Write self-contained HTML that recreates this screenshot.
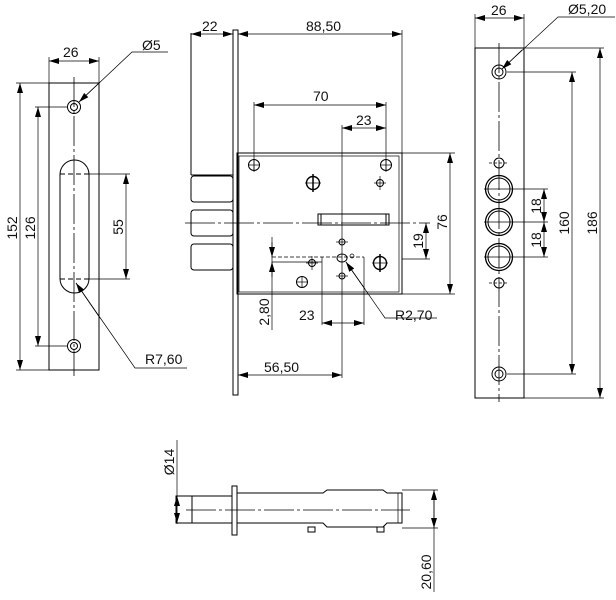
<!DOCTYPE html>
<html><head><meta charset="utf-8"><style>html,body{margin:0;padding:0;background:#fff}svg{display:block}text{font-family:"Liberation Sans",sans-serif;font-size:14px;fill:#111}</style></head><body>
<svg width="616" height="600" viewBox="0 0 616 600" xmlns="http://www.w3.org/2000/svg">
<defs>
<marker id="a" viewBox="0 0 10 6" refX="10" refY="3" markerWidth="10" markerHeight="6" orient="auto-start-reverse" markerUnits="userSpaceOnUse"><path d="M0,0L10,3L0,6z" fill="#000"/></marker>
</defs>
<g fill="none" stroke="#000" stroke-width="1">
<rect x="49" y="83" width="50" height="287"/>
<line x1="74" y1="77" x2="74" y2="376" stroke-width="0.8" stroke-dasharray="30,3,3,3"/>
<circle cx="74" cy="107" r="6.5"/><circle cx="74" cy="107" r="3.5"/>
<circle cx="74" cy="346" r="6.5"/><circle cx="74" cy="346" r="3.5"/>
<rect x="60" y="160" width="29" height="133" rx="14.5"/>
<line x1="60" y1="174" x2="89" y2="174" stroke-dasharray="5,3"/>
<line x1="60" y1="279" x2="89" y2="279" stroke-dasharray="5,3"/>
<line x1="49" y1="57" x2="49" y2="83" stroke-width="0.7"/><line x1="99" y1="57" x2="99" y2="83" stroke-width="0.7"/>
<line x1="49" y1="61" x2="99" y2="61" marker-start="url(#a)" marker-end="url(#a)" stroke-width="0.7"/>
<line x1="16" y1="83" x2="49" y2="83" stroke-width="0.7"/><line x1="16" y1="370" x2="49" y2="370" stroke-width="0.7"/>
<line x1="20" y1="83" x2="20" y2="370" marker-start="url(#a)" marker-end="url(#a)" stroke-width="0.7"/>
<line x1="35" y1="107" x2="68" y2="107" stroke-width="0.7"/><line x1="35" y1="346" x2="68" y2="346" stroke-width="0.7"/>
<line x1="38" y1="107" x2="38" y2="346" marker-start="url(#a)" marker-end="url(#a)" stroke-width="0.7"/>
<line x1="89" y1="174" x2="130" y2="174" stroke-width="0.7"/><line x1="89" y1="279" x2="130" y2="279" stroke-width="0.7"/>
<line x1="126" y1="174" x2="126" y2="279" marker-start="url(#a)" marker-end="url(#a)" stroke-width="0.7"/>
<polyline points="168,52 132,52 79,102" stroke-width="0.7"/><line x1="100" y1="82" x2="79" y2="102" marker-end="url(#a)" stroke-width="0.7"/>
<polyline points="187,368 135,368 76,283" stroke-width="0.7"/><line x1="100" y1="318" x2="76" y2="283" marker-end="url(#a)" stroke-width="0.7"/>

<rect x="233" y="30" width="5" height="365"/>
<line x1="191" y1="33" x2="191" y2="175"/>
<line x1="191" y1="175" x2="233" y2="175"/>
<rect x="191" y="176" width="42" height="26" rx="3"/>
<rect x="191" y="210" width="42" height="26" rx="3"/>
<rect x="191" y="244" width="42" height="26" rx="3"/>
<rect x="237" y="153" width="165" height="141"/>
<rect x="239" y="156" width="160" height="136" stroke-width="0.7"/>
<line x1="191" y1="34" x2="233" y2="34" marker-start="url(#a)" marker-end="url(#a)" stroke-width="0.7"/>
<line x1="238" y1="34" x2="402" y2="34" marker-start="url(#a)" marker-end="url(#a)" stroke-width="0.7"/>
<line x1="402" y1="30" x2="402" y2="153" stroke-width="0.7"/>
<line x1="254" y1="102" x2="254" y2="172" stroke-width="0.7"/><line x1="386" y1="102" x2="386" y2="172" stroke-width="0.7"/>
<line x1="254" y1="105" x2="386" y2="105" marker-start="url(#a)" marker-end="url(#a)" stroke-width="0.7"/>
<line x1="342" y1="125" x2="342" y2="378" stroke-width="0.7"/>
<line x1="342" y1="128" x2="386" y2="128" marker-start="url(#a)" marker-end="url(#a)" stroke-width="0.7"/>
<line x1="402" y1="153" x2="455" y2="153" stroke-width="0.7"/><line x1="402" y1="294" x2="455" y2="294" stroke-width="0.7"/>
<line x1="450" y1="153" x2="450" y2="294" marker-start="url(#a)" marker-end="url(#a)" stroke-width="0.7"/>
<circle cx="254" cy="165" r="5.5"/><line x1="248" y1="165" x2="260" y2="165" stroke-width="0.7"/><line x1="254" y1="159" x2="254" y2="171" stroke-width="0.7"/>
<circle cx="386" cy="165" r="5.5"/><line x1="380" y1="165" x2="392" y2="165" stroke-width="0.7"/><line x1="386" y1="159" x2="386" y2="171" stroke-width="0.7"/>
<circle cx="313" cy="183" r="6.5" stroke-width="1.4"/><line x1="305" y1="183" x2="321" y2="183" stroke-width="0.7"/><line x1="313" y1="174" x2="313" y2="192" stroke-width="1.5"/>
<circle cx="380" cy="183" r="3.5"/><line x1="374" y1="183" x2="386" y2="183" stroke-width="0.7"/><line x1="380" y1="176" x2="380" y2="190" stroke-width="0.7"/>
<rect x="318" y="214" width="71" height="11"/><line x1="321" y1="214" x2="321" y2="225"/><line x1="386" y1="214" x2="386" y2="225"/>
<line x1="185" y1="223" x2="430" y2="223" stroke-width="0.8" stroke-dasharray="30,3,3,3"/>
<line x1="402" y1="259" x2="430" y2="259" stroke-width="0.7"/>
<line x1="426" y1="223" x2="426" y2="259" marker-start="url(#a)" marker-end="url(#a)" stroke-width="0.7"/>
<circle cx="342" cy="242" r="3"/><line x1="336" y1="242" x2="348" y2="242" stroke-width="0.7"/>
<line x1="272" y1="257" x2="364" y2="257" stroke-width="0.7" stroke-dasharray="4,2"/>
<line x1="272" y1="262" x2="322" y2="262" stroke-width="0.7"/>
<line x1="322" y1="257" x2="322" y2="325" stroke-width="0.7"/><line x1="364" y1="257" x2="364" y2="325" stroke-width="0.7"/>
<ellipse cx="342" cy="258" rx="5" ry="4"/><circle cx="352" cy="256" r="2" stroke-width="0.7"/>
<circle cx="312" cy="263" r="3.5"/><line x1="306" y1="263" x2="318" y2="263" stroke-width="0.7"/><line x1="312" y1="256" x2="312" y2="270" stroke-width="0.7"/>
<circle cx="380" cy="263" r="6.5" stroke-width="1.4"/><line x1="372" y1="263" x2="388" y2="263" stroke-width="0.7"/><line x1="380" y1="254" x2="380" y2="272" stroke-width="1.5"/>
<circle cx="302" cy="282" r="5.5"/><line x1="296" y1="282" x2="308" y2="282" stroke-width="0.7"/><line x1="302" y1="276" x2="302" y2="288" stroke-width="0.7"/>
<circle cx="342" cy="276" r="3"/><line x1="336" y1="276" x2="348" y2="276" stroke-width="0.7"/>
<line x1="272" y1="237" x2="272" y2="330" stroke-width="0.7"/>
<line x1="272" y1="242" x2="272" y2="257" marker-end="url(#a)" stroke-width="0.7"/>
<line x1="272" y1="277" x2="272" y2="262" marker-end="url(#a)" stroke-width="0.7"/>
<line x1="322" y1="323" x2="364" y2="323" marker-start="url(#a)" marker-end="url(#a)" stroke-width="0.7"/>
<polyline points="437,318 385,318 346,262" stroke-width="0.7"/><line x1="365" y1="289" x2="346" y2="262" marker-end="url(#a)" stroke-width="0.7"/>
<line x1="238" y1="375" x2="342" y2="375" marker-start="url(#a)" marker-end="url(#a)" stroke-width="0.7"/>

<rect x="475" y="48" width="49" height="350"/>
<line x1="499" y1="43" x2="499" y2="402" stroke-width="0.8" stroke-dasharray="30,3,3,3"/>
<circle cx="499" cy="72" r="7"/><circle cx="499" cy="72" r="4"/>
<circle cx="499" cy="374" r="7"/><circle cx="499" cy="374" r="4"/>
<circle cx="499" cy="163" r="5"/><line x1="489" y1="163" x2="509" y2="163" stroke-width="0.7" stroke-dasharray="3,2"/>
<circle cx="499" cy="283" r="5"/><line x1="489" y1="283" x2="509" y2="283" stroke-width="0.7" stroke-dasharray="3,2"/>
<circle cx="499" cy="189" r="13.5" stroke-width="1.3"/><circle cx="499" cy="189" r="11"/>
<circle cx="499" cy="222" r="13.5" stroke-width="1.3"/><circle cx="499" cy="222" r="11"/>
<circle cx="499" cy="257" r="13.5" stroke-width="1.3"/><circle cx="499" cy="257" r="11"/>
<line x1="484" y1="189" x2="548" y2="189" stroke-width="0.7"/><line x1="484" y1="222" x2="548" y2="222" stroke-width="0.7"/><line x1="484" y1="257" x2="548" y2="257" stroke-width="0.7"/>
<line x1="544" y1="189" x2="544" y2="222" marker-start="url(#a)" marker-end="url(#a)" stroke-width="0.7"/>
<line x1="544" y1="222" x2="544" y2="257" marker-start="url(#a)" marker-end="url(#a)" stroke-width="0.7"/>
<line x1="507" y1="72" x2="576" y2="72" stroke-width="0.7"/><line x1="507" y1="374" x2="576" y2="374" stroke-width="0.7"/>
<line x1="572" y1="72" x2="572" y2="374" marker-start="url(#a)" marker-end="url(#a)" stroke-width="0.7"/>
<line x1="524" y1="48" x2="604" y2="48" stroke-width="0.7"/><line x1="524" y1="398" x2="604" y2="398" stroke-width="0.7"/>
<line x1="600" y1="48" x2="600" y2="398" marker-start="url(#a)" marker-end="url(#a)" stroke-width="0.7"/>
<line x1="475" y1="14" x2="475" y2="48" stroke-width="0.7"/><line x1="524" y1="14" x2="524" y2="48" stroke-width="0.7"/>
<line x1="475" y1="18" x2="524" y2="18" marker-start="url(#a)" marker-end="url(#a)" stroke-width="0.7"/>
<polyline points="615,17 558,17 502,69" stroke-width="0.7"/><line x1="522" y1="50" x2="502" y2="69" marker-end="url(#a)" stroke-width="0.7"/>

<rect x="232" y="486" width="5" height="49"/>
<rect x="176" y="496" width="56" height="27"/>
<line x1="192" y1="496" x2="192" y2="523"/>
<path d="M237,493 H323 L327,490 H383 L387,493 H402 V523 H387 L383,527 H327 L323,523 H237"/>
<line x1="398" y1="493" x2="398" y2="523" stroke-width="0.7"/>
<rect x="308" y="527" width="7" height="5"/><rect x="377" y="527" width="7" height="5"/>
<line x1="186" y1="510" x2="410" y2="510" stroke-width="0.8" stroke-dasharray="30,3,3,3"/>
<line x1="177" y1="440" x2="177" y2="524" stroke-width="0.7"/>
<line x1="177" y1="496" x2="177" y2="523" marker-start="url(#a)" marker-end="url(#a)" stroke-width="0.7"/>
<line x1="402" y1="490" x2="438" y2="490" stroke-width="0.7"/><line x1="402" y1="528" x2="438" y2="528" stroke-width="0.7"/>
<line x1="434" y1="490" x2="434" y2="592" stroke-width="0.7"/>
<line x1="434" y1="490" x2="434" y2="528" marker-start="url(#a)" marker-end="url(#a)" stroke-width="0.7"/>
</g>
<text x="63" y="57">26</text>
<text x="142" y="50">Ø5</text>
<text x="145" y="364">R7,60</text>
<text transform="translate(17,228) rotate(-90)" text-anchor="middle">152</text>
<text transform="translate(35,228) rotate(-90)" text-anchor="middle">126</text>
<text transform="translate(123,227) rotate(-90)" text-anchor="middle">55</text>
<text x="202" y="31">22</text>
<text x="306" y="31">88,50</text>
<text x="313" y="101">70</text>
<text x="356" y="125">23</text>
<text transform="translate(447,222) rotate(-90)" text-anchor="middle">76</text>
<text transform="translate(423,241) rotate(-90)" text-anchor="middle">19</text>
<text transform="translate(269,312) rotate(-90)" text-anchor="middle">2,80</text>
<text x="299" y="320">23</text>
<text x="395" y="320">R2,70</text>
<text x="264" y="372">56,50</text>
<text x="491" y="15">26</text>
<text x="568" y="14">Ø5,20</text>
<text transform="translate(541,206) rotate(-90)" text-anchor="middle">18</text>
<text transform="translate(541,240) rotate(-90)" text-anchor="middle">18</text>
<text transform="translate(569,223) rotate(-90)" text-anchor="middle">160</text>
<text transform="translate(597,223) rotate(-90)" text-anchor="middle">186</text>
<text transform="translate(174,462) rotate(-90)" text-anchor="middle">Ø14</text>
<text transform="translate(431,572) rotate(-90)" text-anchor="middle">20,60</text>
</svg>
</body></html>
